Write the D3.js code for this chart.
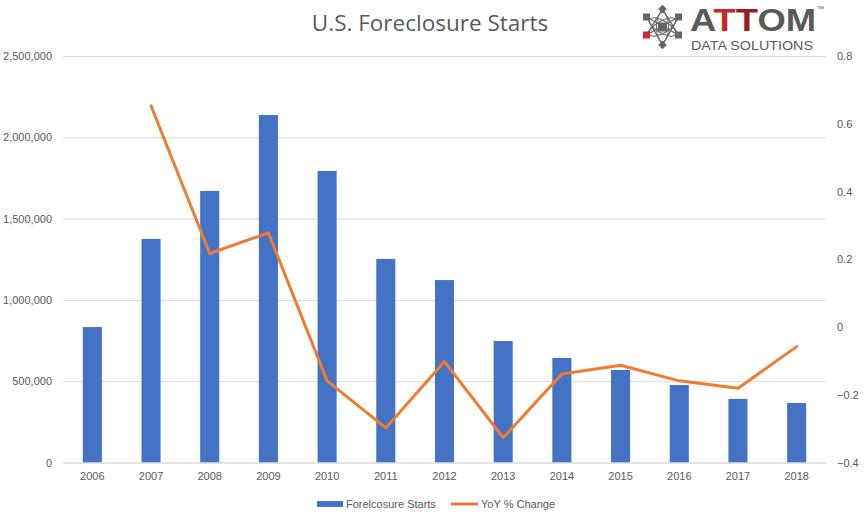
<!DOCTYPE html>
<html><head><meta charset="utf-8">
<script src="https://cdn.jsdelivr.net/npm/d3@7"></script>
<style>
body{margin:0;background:#fff;}
svg{display:block;}
</style></head>
<body>
<svg id="chart" width="865" height="514"></svg>
<script>
const years = ["2006","2007","2008","2009","2010","2011","2012","2013","2014","2015","2016","2017","2018"];
const starts = [833000,1375000,1670000,2137000,1793000,1252000,1122000,747000,643000,569000,477000,391000,366000];
const yoy = [null,0.653,0.217,0.278,-0.159,-0.298,-0.102,-0.327,-0.139,-0.113,-0.159,-0.181,-0.058];
const leftTicks = [0,500000,1000000,1500000,2000000,2500000];
const rightTicks = [-0.4,-0.2,0,0.2,0.4,0.6,0.8];
const titleText = "U.S. Foreclosure Starts";
const seriesNames = ["Forelcosure Starts","YoY % Change"];

const svg = d3.select("#chart");
const L = 63, R = 826, T = 56, B = 462.5;
const font = "'Liberation Sans', Arial, sans-serif";
const textColor = "#595959";

const x = d3.scaleBand().domain(years).range([L,R]).paddingInner(0.675).paddingOuter(0.3375);
const yL = d3.scaleLinear().domain([0,2500000]).range([B,T]);
const yR = d3.scaleLinear().domain([-0.4,0.8]).range([B,T]);

// gridlines + left axis
const gl = svg.append("g").attr("transform",`translate(${L},0)`)
  .call(d3.axisLeft(yL).tickValues(leftTicks).tickSize(-(R-L)).tickPadding(11).tickFormat(d3.format(",")));
gl.select(".domain").remove();
gl.selectAll(".tick line").attr("stroke","#d9d9d9").attr("stroke-width",1);
gl.selectAll(".tick text").attr("fill",textColor).style("font-family",font).style("font-size","11px");

// right axis
const gr = svg.append("g").attr("transform",`translate(${R},0)`)
  .call(d3.axisRight(yR).tickValues(rightTicks).tickSize(0).tickPadding(11).tickFormat(d => d3.format("")(Math.round(d*10)/10)));
gr.select(".domain").remove();
gr.selectAll(".tick text").attr("fill",textColor).style("font-family",font).style("font-size","11px");

// bars
svg.append("g").selectAll("rect").data(years).join("rect")
  .attr("x", d => x(d))
  .attr("width", x.bandwidth())
  .attr("y", (d,i) => yL(starts[i]))
  .attr("height", (d,i) => B - yL(starts[i]))
  .attr("fill","#4472c4");

// bottom axis
const gx = svg.append("g").attr("transform",`translate(0,${B})`)
  .call(d3.axisBottom(x).tickSize(0).tickPadding(10));
gx.select(".domain").attr("stroke","#d9d9d9");
gx.selectAll(".tick text").attr("fill",textColor).style("font-family",font).style("font-size","11px");

// line
const line = d3.line()
  .defined(d => d.v !== null)
  .x(d => x(d.year) + x.bandwidth()/2)
  .y(d => yR(d.v));
svg.append("path")
  .datum(years.map((y,i)=>({year:y, v:yoy[i]})))
  .attr("d", line)
  .attr("fill","none").attr("stroke","#ed7d31").attr("stroke-width",3)
  .attr("stroke-linejoin","round").attr("stroke-linecap","round");

// title
svg.append("text").attr("x",430).attr("y",31).attr("text-anchor","middle")
  .attr("fill",textColor).style("font-family","'Open Sans', sans-serif").style("font-size","22.5px")
  .text(titleText);

// legend
const lg = svg.append("g");
lg.append("rect").attr("x",317).attr("y",501).attr("width",26).attr("height",6).attr("fill","#4472c4");
lg.append("text").attr("x",346).attr("y",508).attr("fill",textColor).style("font-family",font).style("font-size","11px").text(seriesNames[0]);
lg.append("line").attr("x1",451).attr("x2",478).attr("y1",504).attr("y2",504).attr("stroke","#ed7d31").attr("stroke-width",3);
lg.append("text").attr("x",481).attr("y",508).attr("fill",textColor).style("font-family",font).style("font-size","11px").text(seriesNames[1]);

// logo
const logo = svg.append("g");
const cx = 662.5, cy = 27;
const grey = "#666666";
// hexagram of connections
const nTop=[0,-18], nBot=[0,18], nUL=[-16,-10], nUR=[16,-10], nLL=[-16,8], nLR=[16,8];
[[nTop,nLL],[nTop,nLR],[nBot,nUL],[nBot,nUR],[nUL,nLR],[nUR,nLL]].forEach(([a,b])=>{
  logo.append("line").attr("x1",cx+a[0]).attr("y1",cy+a[1]).attr("x2",cx+b[0]).attr("y2",cy+b[1])
    .attr("stroke",grey).attr("stroke-width",1.4);
});
[0,60,120].forEach(r=>{
  logo.append("ellipse").attr("cx",cx).attr("cy",cy).attr("rx",15).attr("ry",6)
    .attr("transform",`rotate(${r+90},${cx},${cy})`)
    .attr("fill","none").attr("stroke",grey).attr("stroke-width",1);
});
logo.append("rect").attr("x",cx-4.5).attr("y",cy-4.5).attr("width",9).attr("height",9).attr("fill",grey);
[nTop,nBot].forEach(a=>{
  logo.append("rect").attr("x",cx+a[0]-3).attr("y",cy+a[1]-3).attr("width",6).attr("height",6)
    .attr("transform",`rotate(45,${cx+a[0]},${cy+a[1]})`).attr("fill",grey);
});
[nUL,nUR,nLL,nLR].forEach(a=>{
  logo.append("rect").attr("x",cx+a[0]-3.5).attr("y",cy+a[1]-3.5).attr("width",7).attr("height",7)
    .attr("fill", a===nLL ? "#d6262b" : grey);
});
const atom = logo.append("text").attr("x",690).attr("y",31).attr("textLength",126).attr("lengthAdjust","spacingAndGlyphs")
  .style("font-family",font).style("font-size","31px").style("font-weight","bold");
atom.append("tspan").attr("fill","#5a5a5a").text("A");
atom.append("tspan").attr("fill","#c8262b").text("T");
atom.append("tspan").attr("fill","#9a1c20").text("T");
atom.append("tspan").attr("fill","#5a5a5a").text("OM");
logo.append("text").attr("x",817).attr("y",11).attr("fill","#5a5a5a").style("font-family",font).style("font-size","7px").text("™");
logo.append("text").attr("x",691).attr("y",50).attr("textLength",122).attr("lengthAdjust","spacingAndGlyphs")
  .attr("fill","#5a5a5a").style("font-family",font).style("font-size","13.5px").text("DATA SOLUTIONS");
</script>
</body></html>
